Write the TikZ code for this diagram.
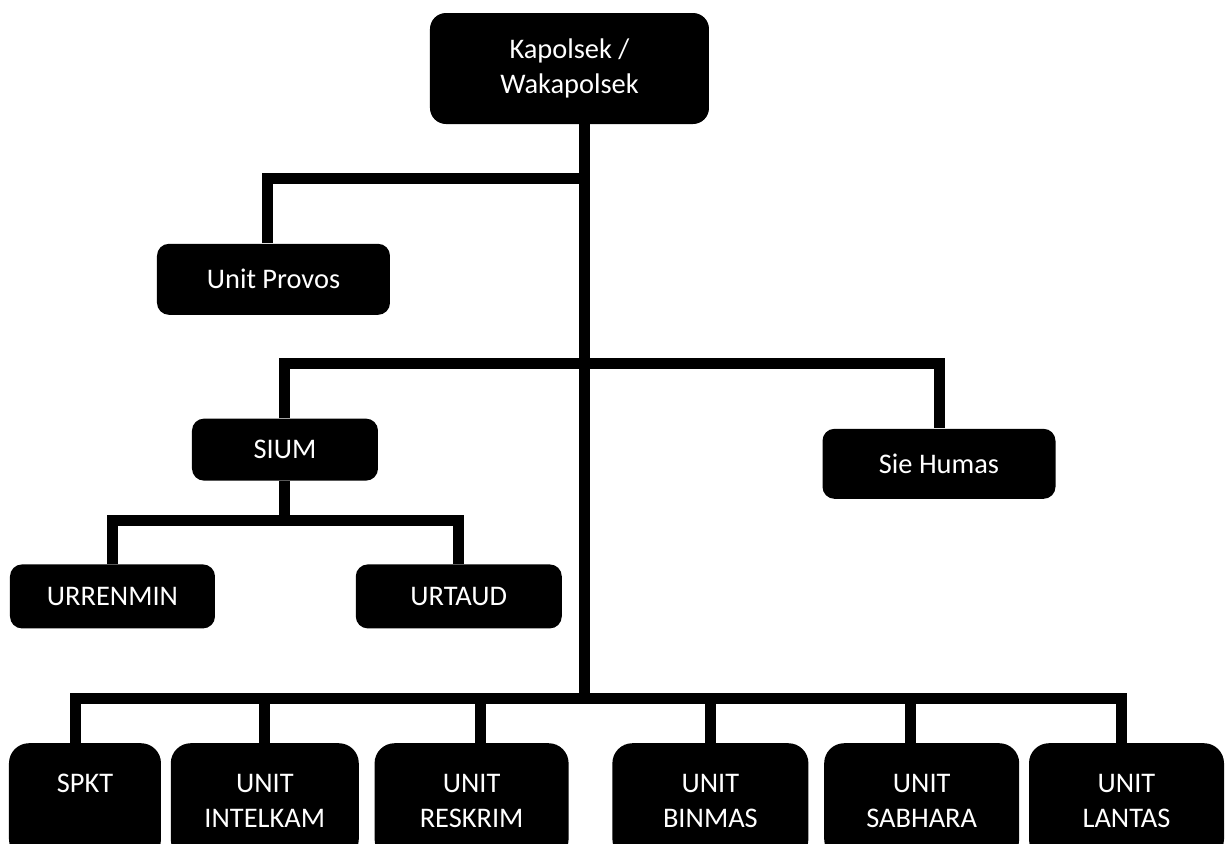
\documentclass[tikz,border=0pt]{standalone}
\usepackage{fontspec}
\setmainfont{Carlito}
\usetikzlibrary{positioning}

\begin{document}
\begin{tikzpicture}[
  box/.style={fill=black, text=white, rounded corners=6pt, align=center, inner sep=2pt, font=\fontsize{14.2}{17.5}\selectfont},
  unit/.style={box, rounded corners=10pt, minimum height=58pt},
  link/.style={line width=5.5pt}
]
  \useasboundingbox (-284.75pt,34.25pt) rectangle (328.75pt,-387.25pt);
  \clip (-284.75pt,34.25pt) rectangle (328.75pt,-387.25pt);

  \node[box, rounded corners=8pt, minimum width=139.5pt, minimum height=55.5pt] (kap) {Kapolsek /\\Wakapolsek};
  \node[box, minimum width=116.5pt, minimum height=35.5pt, below=59.5pt of kap, xshift=-148pt] (provos) {Unit Provos};
  \node[box, minimum width=93pt, minimum height=31pt, below=51.5pt of provos, xshift=5.75pt] (sium) {SIUM};
  \node[box, minimum width=116.5pt, minimum height=35pt, below=152pt of kap, xshift=184.75pt] (humas) {Sie Humas};
  \node[box, minimum width=102.5pt, minimum height=32pt, below=41.5pt of sium, xshift=-86.25pt] (urrenmin) {URRENMIN};
  \node[box, minimum width=103pt, minimum height=32pt, right=70pt of urrenmin] (urtaud) {URTAUD};

  \node[unit, minimum width=76pt, below=57pt of urrenmin, xshift=-13.75pt] (spkt) {SPKT\\~};
  \node[unit, minimum width=94pt, right=4.5pt of spkt] (intelkam) {UNIT\\INTELKAM};
  \node[unit, minimum width=97pt, right=7.5pt of intelkam] (reskrim) {UNIT\\RESKRIM};
  \node[unit, minimum width=98pt, right=21.5pt of reskrim] (binmas) {UNIT\\BINMAS};
  \node[unit, minimum width=97.5pt, right=7.5pt of binmas] (sabhara) {UNIT\\SABHARA};
  \node[unit, minimum width=97.5pt, right=4.5pt of sabhara] (lantas) {UNIT\\LANTAS};

  \coordinate (trunk) at ([xshift=7.75pt]kap.south);
  \coordinate (j1) at ([yshift=-27pt]trunk);
  \coordinate (j2) at ([yshift=-119.5pt]trunk);
  \coordinate (j3) at ([yshift=-19.5pt]sium.south);
  \coordinate (j4) at ([yshift=-287pt]trunk);

  \draw[link] (trunk) -- (j4);
  \draw[link] (j1) -| ([xshift=-2.75pt]provos.north);
  \draw[link] (sium.north) |- (j2) -| (humas.north);
  \draw[link] (sium.south) -- (j3);
  \draw[link] (urrenmin.north) |- (j3) -| (urtaud.north);
  \draw[link] ([xshift=-4.5pt]spkt.north) |- (j4) -| ([xshift=-2.75pt]lantas.north);
  \draw[link] (intelkam.north) -- (intelkam.north |- j4);
  \draw[link] ([xshift=4.5pt]reskrim.north) -- ([xshift=4.5pt]reskrim.north |- j4);
  \draw[link] (binmas.north) -- (binmas.north |- j4);
  \draw[link] ([xshift=-5.75pt]sabhara.north) -- ([xshift=-5.75pt]sabhara.north |- j4);
\end{tikzpicture}
\end{document}
